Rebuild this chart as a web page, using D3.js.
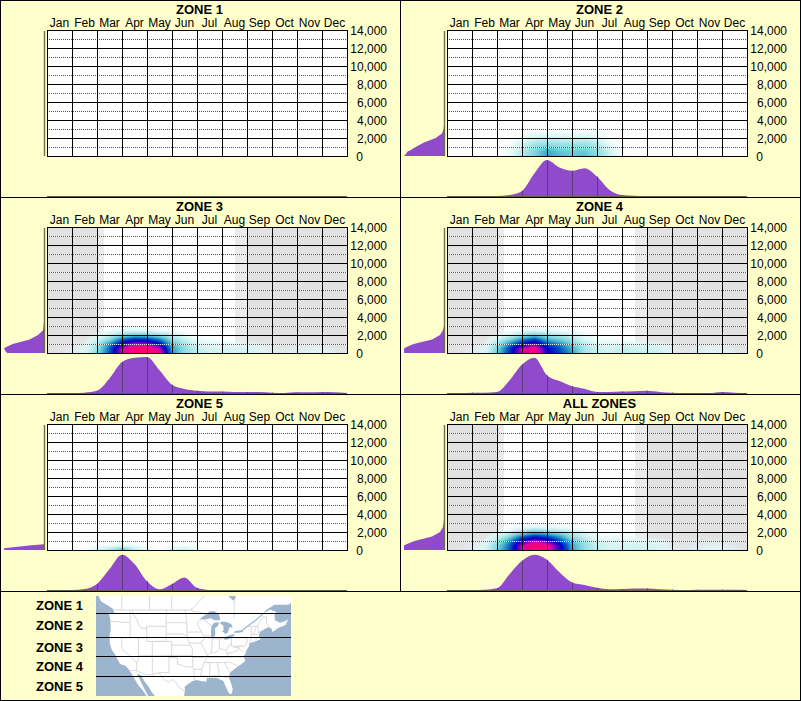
<!DOCTYPE html>
<html><head><meta charset="utf-8">
<script src="https://cdn.jsdelivr.net/npm/d3@7/dist/d3.min.js"></script>
<style>html,body{margin:0;padding:0;background:#FFFFCC}svg{display:block}text{font-family:"Liberation Sans",Arial,sans-serif;fill:#000}</style>
</head><body><svg id="c" width="801" height="701"></svg>
<script>
const months=["Jan","Feb","Mar","Apr","May","Jun","Jul","Aug","Sep","Oct","Nov","Dec"];
const elevTicks=[0,2000,4000,6000,8000,10000,12000,14000];
const dottedTicks=[1000,3000,5000,7000,9000,11000,13000];
const zoneNames=["ZONE 1","ZONE 2","ZONE 3","ZONE 4","ZONE 5","ALL ZONES"];
const legendNames=["ZONE 1","ZONE 2","ZONE 3","ZONE 4","ZONE 5"];
const legendRows=[605,625,647,666.5,686.5];
const zoneLat=[613.5,637.5,656.5,676.5];
const maskedZones=[false,false,true,true,false,true];

// seasonal profile, half-month steps, % of peak
const seasonZ1=[0,0,0,0,0,0,0,0,0,0,0,0,0,0,0,0,0,0,0,0,0,0,0,0,0];
const seasonZ2=[0,0,0,0,0,3,14,63,100,79,70,77,54,17,3,1,0,0,0,0,0,0,0,0,0];
const seasonZ3=[0,0,0,1,6,40,86,98,100,63,23,11,6,4,4,3,3,3,1,0,2,2,3,2,0];
const seasonZ4=[0,0,1,1,3,35,79,98,49,33,19,12,3,3,4,5,6,3,1,0,0,0,3,1,0];
const seasonZ5=[0,0,0,3,17,58,98,72,24,2,17,35,6,0,0,0,0,0,0,0,0,0,0,0,0];
const seasonAll=[0,0,0,1,5,44,81,98,84,49,21,14,6,2,3,4,4,2,1,0,1,1,1,1,0];
const seasons=[seasonZ1,seasonZ2,seasonZ3,seasonZ4,seasonZ5,seasonAll];

// elevation profile, width as % of peak
const profileElev=[0,200,500,650,1000,1500,2000,2500,3000,3500];
const profileZ1=[0,0,0,0,0,0,0,0,0,0];
const profileZ2=[100,96,91,84,71,50,21,5,1,0];
const profileZ3=[92,96,100,96,78,36,15,3,1,0];
const profileZ4=[100,100,100,95,76,30,10,3,0,0];
const profileZ5=[100,100,38,0,0,0,0,0,0,0];
const profileAll=[100,100,100,94,74,30,10,3,1,0];
const profiles=[profileZ1,profileZ2,profileZ3,profileZ4,profileZ5,profileAll];

// heat intensity: rows at 0,500..3000 ft, columns half-month
const heatElev=[0,500,1000,1500,2000,2500,3000];
const heatZ2=[
[0,0,0,0,0,3,16,28,42,36,32,35,26,12,2,0,0,0,0,0,0,0,0,0,0],
[0,0,0,0,0,3,15,27,40,33,30,32,24,11,1,0,0,0,0,0,0,0,0,0,0],
[0,0,0,0,0,1,12,24,30,26,25,26,20,7,0,0,0,0,0,0,0,0,0,0,0],
[0,0,0,0,0,0,8,16,20,18,18,18,13,3,0,0,0,0,0,0,0,0,0,0,0],
[0,0,0,0,0,0,3,9,11,10,10,10,6,1,0,0,0,0,0,0,0,0,0,0,0],
[0,0,0,0,0,0,0,3,3,3,3,3,2,0,0,0,0,0,0,0,0,0,0,0,0],
[0,0,0,0,0,0,0,0,0,0,0,0,0,0,0,0,0,0,0,0,0,0,0,0,0]];
const heatZ3=[
[0,0,3,5,25,54,90,100,100,95,45,25,14,10,10,9,9,6,3,2,3,4,6,2,0],
[0,0,2,4,22,52,88,100,100,88,42,24,13,9,9,8,7,5,2,1,2,3,4,1,0],
[0,0,1,2,18,44,72,86,84,68,36,20,8,6,5,4,3,2,1,0,1,1,1,0,0],
[0,0,0,0,8,26,52,62,60,48,24,12,3,2,1,0,0,0,0,0,0,0,0,0,0],
[0,0,0,0,2,12,24,32,30,22,14,5,0,0,0,0,0,0,0,0,0,0,0,0,0],
[0,0,0,0,0,2,6,7,6,3,1,0,0,0,0,0,0,0,0,0,0,0,0,0,0],
[0,0,0,0,0,0,0,0,0,0,0,0,0,0,0,0,0,0,0,0,0,0,0,0,0]];
const heatZ4=[
[0,0,3,5,30,60,90,100,72,58,42,20,12,10,14,12,12,10,3,1,2,5,6,2,0],
[0,0,2,4,28,58,88,98,68,55,38,19,11,9,13,11,10,8,2,1,2,4,5,1,0],
[0,0,1,2,20,46,66,78,56,46,30,15,7,6,7,6,4,3,1,0,0,1,1,0,0],
[0,0,0,0,10,26,46,58,38,30,20,8,2,2,2,1,0,0,0,0,0,0,0,0,0],
[0,0,0,0,1,9,20,30,22,16,10,5,1,0,0,0,0,0,0,0,0,0,0,0,0],
[0,0,0,0,0,1,4,7,5,3,1,0,0,0,0,0,0,0,0,0,0,0,0,0,0],
[0,0,0,0,0,0,0,0,0,0,0,0,0,0,0,0,0,0,0,0,0,0,0,0,0]];
const heatZ5=[
[0,0,0,1,8,18,36,15,5,0,8,12,3,0,0,0,0,0,0,0,0,0,0,0,0],
[0,0,0,0,1,3,5,3,0,0,1,2,0,0,0,0,0,0,0,0,0,0,0,0,0],
[0,0,0,0,0,0,0,0,0,0,0,0,0,0,0,0,0,0,0,0,0,0,0,0,0],
[0,0,0,0,0,0,0,0,0,0,0,0,0,0,0,0,0,0,0,0,0,0,0,0,0],
[0,0,0,0,0,0,0,0,0,0,0,0,0,0,0,0,0,0,0,0,0,0,0,0,0],
[0,0,0,0,0,0,0,0,0,0,0,0,0,0,0,0,0,0,0,0,0,0,0,0,0],
[0,0,0,0,0,0,0,0,0,0,0,0,0,0,0,0,0,0,0,0,0,0,0,0,0]];
const heatAll=[
[0,0,3,6,28,54,90,100,98,75,42,24,14,10,10,10,10,8,3,1,3,4,5,2,0],
[0,0,2,5,26,52,88,100,96,72,40,23,13,9,9,9,8,6,2,1,2,3,4,1,0],
[0,0,1,2,18,44,70,84,76,58,34,20,8,6,6,6,5,3,1,0,1,1,1,0,0],
[0,0,0,0,8,26,50,62,56,42,22,12,3,3,3,2,1,0,0,0,0,0,0,0,0],
[0,0,0,0,1,9,22,32,28,20,13,6,1,0,0,0,0,0,0,0,0,0,0,0,0],
[0,0,0,0,0,1,5,8,6,4,2,0,0,0,0,0,0,0,0,0,0,0,0,0,0],
[0,0,0,0,0,0,0,0,0,0,0,0,0,0,0,0,0,0,0,0,0,0,0,0,0]];
const heats=[null,heatZ2,heatZ3,heatZ4,heatZ5,heatAll];

// inset map, lon/lat
const landOutline=[[-140,62],[-130,54.5],[-127.5,51],[-124.5,49.8],[-123.1,49.2],[-122.6,48],[-123.2,48.2],[-124.7,48.4],[-124.1,46.5],[-124,44],[-124.4,42.5],[-124.3,40.4],[-123.5,38.5],[-122.5,37.5],[-121.9,36.5],[-120.6,34.6],[-118.5,34],[-117.2,32.6],[-116,31],[-115,29.5],[-114,28],[-112.5,26.5],[-111,24.5],[-110,23],[-109.5,23.2],[-110.5,24.5],[-111.5,26.3],[-112.8,28.5],[-113.8,30.5],[-114.7,31.7],[-113,31.2],[-112,29.5],[-110.5,27.8],[-109.3,26],[-108,24.5],[-106,22.5],[-105,19],[-96,19],[-97.8,22.5],[-97.5,25],[-97.2,26.5],[-97.4,27.5],[-96,28.5],[-94.5,29.4],[-93,29.7],[-91,29.3],[-89.5,29.2],[-89.3,30.3],[-88,30.3],[-86,30.4],[-84.5,29.8],[-83.5,29.5],[-82.7,28],[-82,26.5],[-81.2,25.2],[-80.4,25.3],[-80,26.8],[-80.6,28.5],[-81.4,30.5],[-81,32],[-79,33.3],[-77.9,34],[-76.5,34.8],[-75.6,35.4],[-76,36.9],[-75.5,37.5],[-75.1,38.5],[-74.2,39.6],[-74,40.6],[-72,41],[-70,41.6],[-70.7,42.5],[-70.2,43.6],[-68.5,44.3],[-67,44.8],[-66,44.3],[-65.7,43.5],[-63.5,44.6],[-61,45.3],[-60,46.8],[-61,46.3],[-63,45.9],[-64.8,46.5],[-65,47.8],[-64.3,48.5],[-66.5,49.1],[-69,48.2],[-68,49],[-65,50.2],[-60,50.2],[-56,51.8],[-55,53],[-60,62]];
const newfoundland=[[-59,47.7],[-55,46.9],[-53,46.8],[-53,48.5],[-56,51.5],[-58,49]];
const lakes=[
[[-92,46.7],[-90,46.7],[-88,47],[-86.5,46.5],[-84.7,46.5],[-84.6,47],[-85,47.9],[-86.5,48.7],[-88.3,48.7],[-89.5,48],[-91,47.3]],
[[-87.7,41.7],[-86.9,41.7],[-86.3,43],[-86.4,44.5],[-85.5,45],[-84.8,45.8],[-85.8,46],[-86.8,45.8],[-87.7,45],[-87.9,43.5]],
[[-84.7,45.8],[-83.4,45.1],[-83.3,44],[-83.9,43.7],[-82.5,43],[-81.7,43.5],[-81.2,44.8],[-80,44.6],[-80.5,45.5],[-82,46],[-84,46.2]],
[[-83.4,41.7],[-82.5,41.4],[-81,41.8],[-79,42.8],[-79.5,42.9],[-81,42.7],[-83,42.1]],
[[-79.7,43.3],[-78,43.3],[-76.3,43.5],[-76.3,44.1],[-77.5,43.9],[-79.2,43.8]],
[[-80,51.2],[-79,51.5],[-79,56],[-82,56],[-82,52.5]]];
const stLawrence=[[-76.3,44.1],[-74.7,45],[-71.2,46.8],[-69,48.2]];
const borders=[
[[-123,49],[-95.2,49],[-95,49.3],[-94.5,48.7],[-92.5,48.5],[-89.6,48]],
[[-120,49],[-120,60]],[[-110,49],[-110,60]],[[-102,49],[-102,60]],[[-95,49],[-89,53],[-89,57]],[[-79.5,47],[-79.5,51.3]],
[[-124,46.2],[-123,46.2],[-119,46],[-117,46]],[[-117,49],[-117,42]],[[-124.2,42],[-111,42]],
[[-120,42],[-120,39],[-114.6,35]],[[-114,42],[-114,36.2],[-114.6,35]],[[-114.6,35],[-114.7,32.7]],
[[-117.1,32.5],[-114.7,32.7],[-114.8,32.5],[-111,31.3],[-108.2,31.3],[-108.2,31.8],[-106.5,31.8],[-104.5,29.6],[-103,29],[-102,29.8],[-101,29.5],[-99.5,27.5],[-97.2,26]],
[[-114,37],[-102,37]],[[-109,41],[-109,31.3]],[[-111,45],[-104,45],[-104,41],[-111,41],[-111,45]],
[[-116,49],[-116,48],[-114.5,46.6],[-114,45.6],[-113,44.5],[-111,44.5]],[[-104,49],[-104,45]],[[-104,45.9],[-96.6,45.9]],
[[-104,43],[-98.5,43],[-96.5,42.5]],[[-109,41],[-102,41],[-102,37]],[[-102,40],[-95.3,40]],[[-103,37],[-94.6,37]],
[[-103,36.5],[-100,36.5],[-100,34.6],[-97,33.8],[-94.5,33.6]],[[-103,37],[-103,32],[-106.6,32]],
[[-97.2,49],[-96.6,46],[-96.5,43.5],[-96.5,42.5],[-95.8,40.6],[-94.6,39.1],[-94.6,36.5],[-94.4,35.4],[-94.5,33.6],[-94,33],[-94,31],[-93.7,29.7]],
[[-96.5,43.5],[-91.2,43.5]],[[-95.8,40.6],[-91.5,40.5]],
[[-92,46.7],[-92.8,45.5],[-91.2,43.5],[-90.2,41.8],[-91.5,40.5],[-90.2,38.8],[-89.2,37],[-89.7,36],[-90.2,35],[-91.2,33],[-91.6,31],[-89.7,31],[-89.6,30.2]],
[[-94.6,36.5],[-90.2,36.5]],[[-94,33],[-91.2,33]],[[-88.2,35],[-88.4,30.3]],[[-90.2,35],[-83.1,35]],[[-89.5,36.5],[-75.9,36.6]],
[[-83.1,35],[-81,35.1],[-79,34.3],[-78,33.9]],[[-83.1,35],[-81,32.1]],[[-85.6,35],[-85,32.5],[-85,31],[-87.6,31],[-87.5,30.3]],[[-85,31],[-82,30.5],[-81.5,30.7]],
[[-89.2,37],[-88,37.8],[-86,38],[-85,38.8],[-84.8,39.1],[-82.6,38.5],[-82,37.6],[-81.7,36.6]],
[[-87.5,41.7],[-87.5,39.3],[-88,37.8]],[[-84.8,41.7],[-84.8,39.1]],[[-90.6,42.5],[-87.8,42.5]],[[-87,41.75],[-83.5,41.7]],
[[-80.5,42],[-80.5,40.6],[-82.6,38.5]],[[-80.5,40.6],[-80.5,39.7],[-75.7,39.7]],[[-79.5,39.7],[-79.5,39.2],[-78,39.5],[-78,38.6],[-80,38],[-82,37.5]],
[[-79.8,42.2],[-79.8,42],[-75.3,42],[-74.7,41.4],[-75.2,40.2],[-75.6,39.6]],[[-73.3,45],[-73.4,42],[-73.6,41]],[[-73.4,42],[-71.4,42],[-71.8,41.3]],
[[-71.5,45],[-72.5,42.8]],[[-71,45.3],[-70.7,43.1]],[[-73.3,42.75],[-71,42.8]],[[-74.7,45],[-71.5,45]],
[[-71.5,45],[-71,45.3],[-70,46.5],[-69.2,47.4],[-68,47.3],[-67.8,45.7],[-67,44.9]],[[-90.4,46.6],[-87.6,45.1]],[[-78,39.5],[-77,38.5],[-76.3,38]]];

const svg=d3.select("#c");
const panelBg="#FFFFCC",purple="#8F4BCB";
svg.append("rect").attr("width",801).attr("height",701).attr("fill",panelBg);

const heatColor=d3.scaleLinear()
 .domain([0,4,12,28,42,55,68,80,90,100])
 .range(["rgba(225,250,250,0)","rgba(225,248,248,.75)","#C8F0F0","#7FD6DE","#35A2C6","#0050C0","#0000C8","#7000C0","#E000A0","#FF0070"])
 .interpolate(d3.interpolateRgb).clamp(true);

const plotX=d3.scaleLinear().domain([0,12]).range([47,347]);
const halfX=d3.scaleLinear().domain([0,24]).range([47,347]);
const elevY=d3.scaleLinear().domain([0,14000]).range([156,30]);
const seasonY=d3.scaleLinear().domain([0,100]).range([196,160]);
const profileX=d3.scaleLinear().domain([0,100]).range([44,4]);

function heatImage(m){
 const w=300,h=126,cv=document.createElement("canvas");cv.width=w;cv.height=h;
 const ctx=cv.getContext("2d"),img=ctx.createImageData(w,h);
 const colS=d3.scaleLinear().domain([47,347]).range([0,24]);
 const rowS=d3.scaleLinear().domain(heatElev).range(heatElev.map((_,i)=>i)).clamp(true);
 for(let py=0;py<h;py++){
  const e=elevY.invert(30+py+.5),r=rowS(e),r0=Math.min(Math.floor(r),heatElev.length-2),fr=r-r0;
  if(e>3000)continue;
  for(let px=0;px<w;px++){
   const c=colS(47+px+.5),c0=Math.min(Math.floor(c),23),fc=c-c0;
   const v=d3.interpolateNumber(
     d3.interpolateNumber(m[r0][c0],m[r0][c0+1])(fc),
     d3.interpolateNumber(m[r0+1][c0],m[r0+1][c0+1])(fc))(fr);
   if(v<=0)continue;
   const col=d3.color(heatColor(v)),o=(py*w+px)*4;
   img.data[o]=col.r;img.data[o+1]=col.g;img.data[o+2]=col.b;img.data[o+3]=Math.round(col.opacity*255);
  }
 }
 ctx.putImageData(img,0,0);
 return cv.toDataURL();
}

zoneNames.forEach((name,zi)=>{
 const ox=(zi%2)*400,oy=Math.floor(zi/2)*197;
 const g=svg.append("g").attr("transform",`translate(${ox},${oy})`);
 g.append("text").attr("x",199.5).attr("y",14).attr("text-anchor","middle").attr("font-weight","bold").attr("font-size",13).text(name);
 g.selectAll(".m").data(months).join("text").attr("x",(d,i)=>plotX(i+.5)).attr("y",27).attr("text-anchor","middle").attr("font-size",12).text(d=>d);

 g.append("rect").attr("x",plotX(0)).attr("y",elevY(14000)).attr("width",plotX(12)-plotX(0)).attr("height",elevY(0)-elevY(14000)).attr("fill","#fff");
 if(maskedZones[zi]){
  [[0,2,"#E2E2E2"],[2,2.28,"#EBEBEB"],[7.52,8,"#EBEBEB"],[8,12,"#E2E2E2"]].forEach(b=>
   g.append("rect").attr("x",plotX(b[0])).attr("y",elevY(14000)).attr("width",plotX(b[1])-plotX(b[0])).attr("height",elevY(0)-elevY(14000)).attr("fill",b[2]));
 }
 if(heats[zi]) g.append("image").attr("x",47).attr("y",30).attr("width",300).attr("height",126).attr("href",heatImage(heats[zi]));

 dottedTicks.forEach(t=>{
  const y=elevY(t)+.5;
  g.append("line").attr("x1",47).attr("x2",347).attr("y1",y).attr("y2",y).attr("stroke","#fff").attr("stroke-opacity",.85);
  g.append("line").attr("x1",47).attr("x2",347).attr("y1",y).attr("y2",y).attr("stroke","#555").attr("stroke-dasharray","1,1");
 });
 elevTicks.forEach(t=>g.append("line").attr("x1",47).attr("x2",348).attr("y1",elevY(t)+.5).attr("y2",elevY(t)+.5).attr("stroke","#000"));
 d3.range(13).forEach(i=>g.append("line").attr("x1",plotX(i)+.5).attr("x2",plotX(i)+.5).attr("y1",30).attr("y2",157).attr("stroke","#000"));

 const axis=g.append("g").attr("transform","translate(387,1)").call(d3.axisLeft(elevY).tickValues(elevTicks).tickSize(0).tickPadding(0).tickFormat(d3.format(",")));
 axis.select(".domain").remove();
 axis.selectAll("text").attr("font-size",12).attr("font-family",'"Liberation Sans",Arial,sans-serif').attr("fill","#000");
 axis.selectAll(".tick").filter(d=>d===0).select("text").attr("x",-24);

 // elevation profile at left
 const pr=profiles[zi];
 g.append("path").attr("fill",purple).attr("d",d3.area().y(d=>elevY(d[0])).x0(profileX(0)).x1(d=>profileX(d[1]))(profileElev.map((e,i)=>[e,pr[i]])));
 g.append("line").attr("x1",44.5).attr("x2",44.5).attr("y1",31).attr("y2",156).attr("stroke","#6E6E52").attr("stroke-width",1.4);

 // seasonal profile below
 const se=seasons[zi];
 g.append("path").attr("fill",purple).attr("d",d3.area().x((d,i)=>halfX(i)).y0(seasonY(0)).y1(d=>seasonY(d)).curve(d3.curveMonotoneX)(se));
 d3.range(13).forEach(i=>{
  const v=se[i*2];
  if(v>0) g.append("line").attr("x1",plotX(i)+.5).attr("x2",plotX(i)+.5).attr("y1",seasonY(v)).attr("y2",seasonY(0)).attr("stroke","#5B3A78");
 });
 g.append("line").attr("x1",47).attr("x2",347).attr("y1",196.5).attr("y2",196.5).attr("stroke","#5F5F50");
});

// inset map
const proj=d3.geoMercator().center([-96.5,25]).translate([187,694.7]).scale(159);
svg.append("clipPath").attr("id","mapclip").append("rect").attr("x",96).attr("y",596).attr("width",195).attr("height",100);
const map=svg.append("g").attr("clip-path","url(#mapclip)");
map.append("rect").attr("x",96).attr("y",596).attr("width",195).attr("height",100).attr("fill","#9DB4CE");
const poly=(pts,fill)=>map.append("path").attr("fill",fill).attr("d",d3.line().x(p=>proj(p)[0]).y(p=>proj(p)[1]).curve(d3.curveLinearClosed)(pts));
poly(landOutline,"#fff");poly(newfoundland,"#fff");
const ln=d3.line().x(p=>proj(p)[0]).y(p=>proj(p)[1]);
borders.forEach(b=>map.append("path").attr("fill","none").attr("stroke","#CFCFCF").attr("stroke-width",.8).attr("d",ln(b)));
lakes.forEach(l=>poly(l,"#9DB4CE"));
map.append("path").attr("fill","none").attr("stroke","#9DB4CE").attr("stroke-width",1.2).attr("d",ln(stLawrence));
zoneLat.forEach(y=>map.append("line").attr("x1",96).attr("x2",291).attr("y1",y).attr("y2",y).attr("stroke","#000"));
legendNames.forEach((n,i)=>svg.append("text").attr("x",83).attr("y",legendRows[i]+4.5).attr("text-anchor","end").attr("font-weight","bold").attr("font-size",13).text(n));

// frame
[[0,.5,801,.5],[0,197.5,801,197.5],[0,394.5,801,394.5],[0,591.5,801,591.5],[0,700.5,801,700.5],[.5,0,.5,701],[800.5,0,800.5,701],[400.5,0,400.5,592]].forEach(l=>
 svg.append("line").attr("x1",l[0]).attr("y1",l[1]).attr("x2",l[2]).attr("y2",l[3]).attr("stroke","#000"));
</script></body></html>
